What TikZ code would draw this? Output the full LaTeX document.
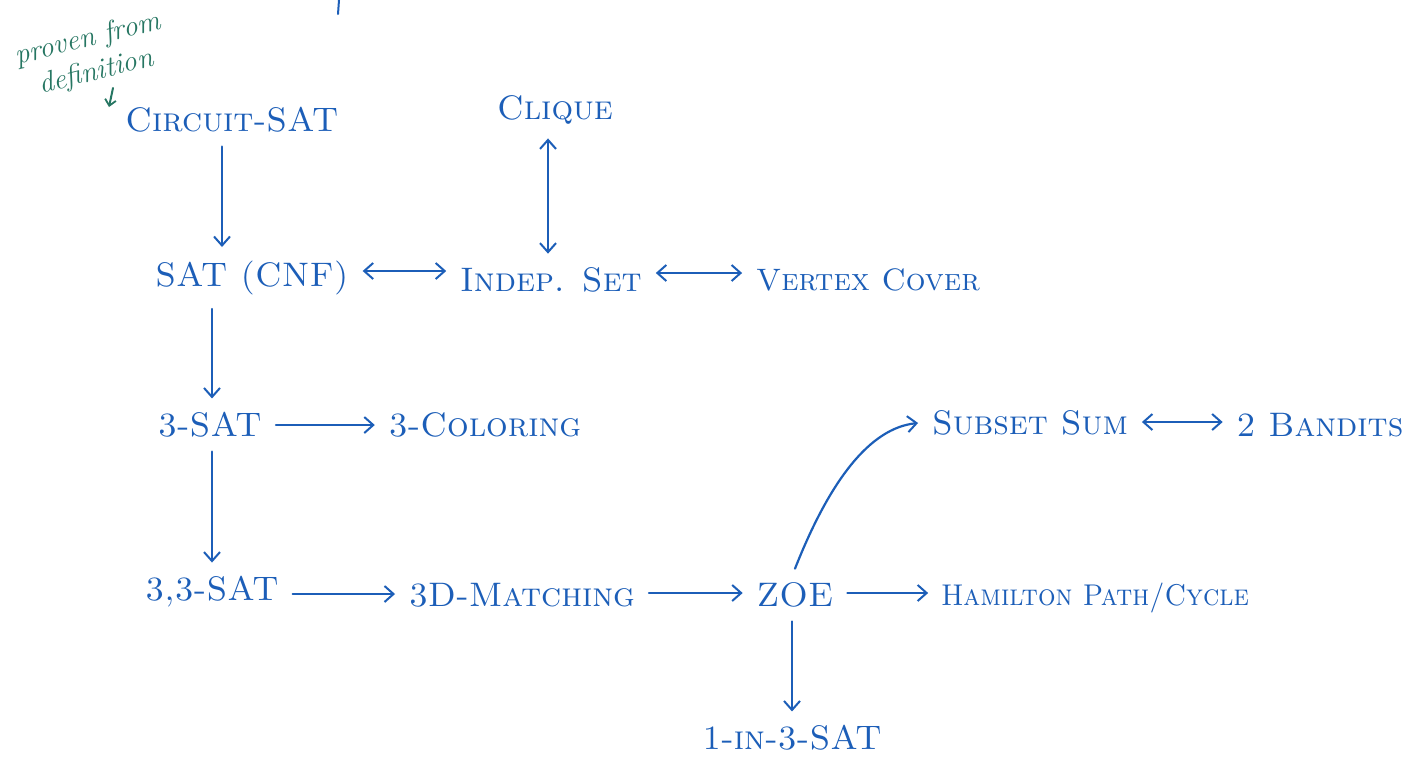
\documentclass[tikz,border=0pt]{standalone}
\usetikzlibrary{arrows.meta}
\definecolor{ink}{RGB}{28,94,184}
\definecolor{greenink}{RGB}{38,118,98}
\begin{document}
\begin{tikzpicture}[x=1pt,y=-1pt,
  lbl/.style={text=ink,font=\fontsize{34}{38}\selectfont\scshape,inner sep=0pt,outer sep=14pt},
  arr/.style={draw=ink,line width=2.2pt,line cap=round,-{Straight Barb[length=9pt,width=16pt,line width=2pt]}},
  darr/.style={draw=ink,line width=2.2pt,line cap=round,{Straight Barb[length=9pt,width=16pt,line width=2pt]}-{Straight Barb[length=9pt,width=16pt,line width=2pt]}},
  garr/.style={draw=greenink,line width=2pt,line cap=round,-{Straight Barb[length=6pt,width=11pt,line width=1.8pt]}}]
\fill[white] (0,0) rectangle (1409,764);
\useasboundingbox (0,0) rectangle (1409,764);
% stray ink fragment at the top edge
\draw[ink,line width=2pt,line cap=round] (339,0) -- (338,14);
% green note
\node[text=greenink,font=\fontsize{29}{34}\selectfont\itshape,rotate=14,align=center,inner sep=0pt] (note) at (92,56) {proven from\\definition};
\coordinate (notestart) at (113,88);
\coordinate (noteend) at (109,107);
\draw[garr] (notestart) -- (noteend);
% nodes
\node[lbl] (circ) at (232,120) {Circuit-SAT};
\node[lbl] (clique) at (555,110) {Clique};
\node[lbl] (sat) at (252,278) {SAT (CNF)};
\node[lbl] (indep) at (551,280) {Indep. Set};
\node[lbl,font=\fontsize{31}{36}\selectfont\scshape] (vc) at (868,280) {Vertex Cover};
\node[lbl] (tsat) at (210,425) {3-SAT};
\node[lbl] (tcol) at (485,425) {3-Coloring};
\node[lbl] (subset) at (1030,423) {Subset Sum};
\node[lbl] (band) at (1320,425) {2 Bandits};
\node[lbl] (ttsat) at (212,592) {3,3-SAT};
\node[lbl] (tdm) at (522,595) {3D-Matching};
\node[lbl] (zoe) at (795,595) {ZOE};
\node[lbl,font=\fontsize{30}{34}\selectfont\scshape,xscale=0.92] (ham) at (1095,598) {Hamilton Path/Cycle};
\node[lbl] (oneinthree) at (792,738) {1-in-3-SAT};
% connectors
\draw[arr] (circ.south -| 222,0) -- (sat.north -| 222,0);
\draw[darr] (clique.south -| 548,0) -- (indep.north -| 548,0);
\draw[darr] (sat.east |- 0,271) -- (indep.west |- 0,271);
\draw[darr] (indep.east |- 0,273) -- (vc.west |- 0,273);
\draw[arr] (sat.south -| 212,0) -- (tsat.north -| 212,0);
\draw[arr] (tsat.east |- 0,425) -- (tcol.west |- 0,425);
\draw[arr] (tsat.south -| 212,0) -- (ttsat.north -| 212,0);
\draw[arr] (ttsat.east |- 0,594) -- (tdm.west |- 0,594);
\draw[arr] (tdm.east |- 0,593) -- (zoe.west |- 0,593);
\draw[arr] (zoe.east |- 0,593) -- (ham.west |- 0,593);
\draw[arr] (zoe.south -| 792,0) -- (oneinthree.north -| 792,0);
\draw[arr] (zoe.north) .. controls (830,480) and (870,428) .. (subset.west);
\draw[darr] (subset.east |- 0,422) -- (band.west |- 0,422);
\end{tikzpicture}
\end{document}
